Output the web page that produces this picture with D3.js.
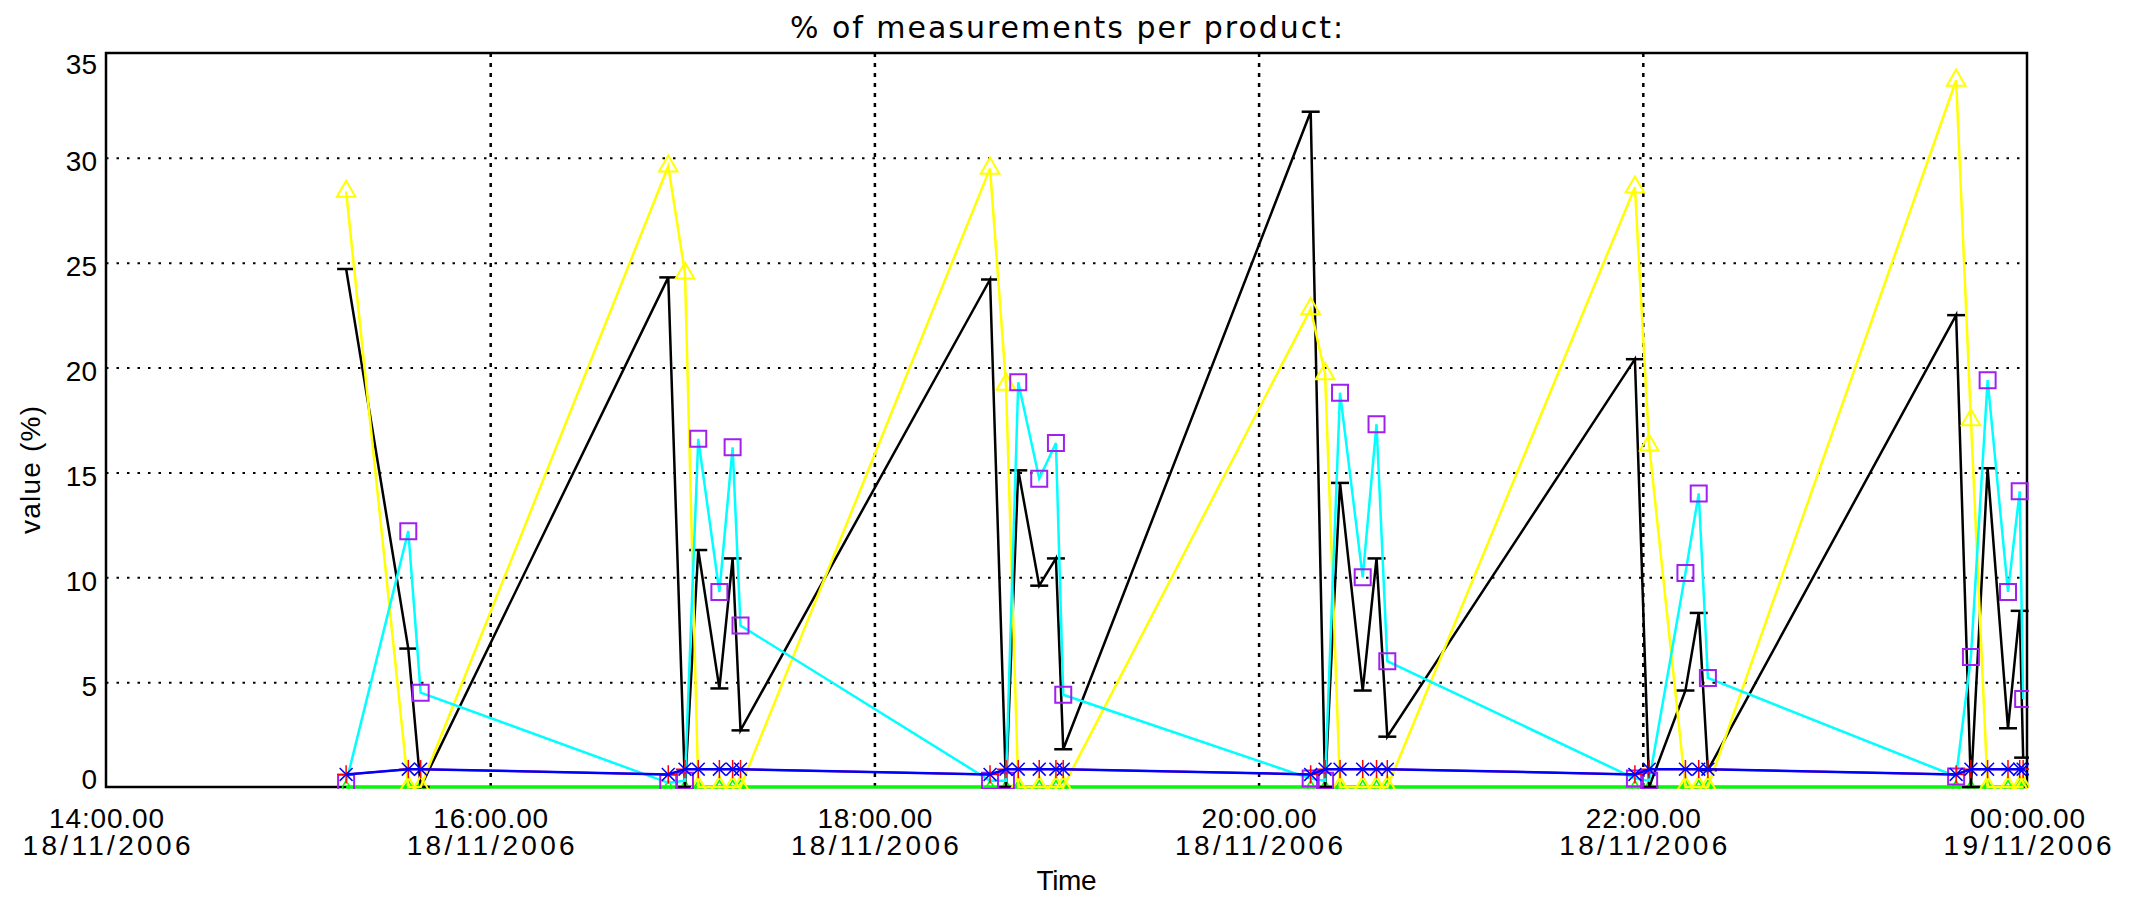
<!DOCTYPE html>
<html>
<head>
<meta charset="utf-8">
<script src="https://cdn.jsdelivr.net/npm/d3@7"></script>
<style>
body { margin: 0; background: #fff; }
text { font-family: "Liberation Sans", Arial, sans-serif; fill: #000; }
</style>
</head>
<body>
<script>
// sample times on 18/11/2006 (one row per measurement)
var times = ["15:15:00","15:34:25","15:38:17",
    "16:55:37","17:00:50","17:04:59","17:11:35","17:15:43","17:18:11",
    "18:36:07","18:41:06","18:44:56","18:51:29","18:56:42","18:58:59",
    "20:16:16","20:20:46","20:25:26","20:32:31","20:36:50","20:40:12",
    "21:57:32","22:01:59","22:13:19","22:17:28","22:20:20",
    "23:37:52","23:42:29","23:47:42","23:54:04","23:57:43","23:58:48"];

var blackVals = [24.7, 6.6, 0,
    24.3, 0, 11.3, 4.7, 10.9, 2.7,
    24.2, 0, 15.1, 9.6, 10.9, 1.8,
    32.2, 0, 14.5, 4.6, 10.9, 2.4,
    20.4, 0, 4.6, 8.3, 0.8,
    22.5, 0, 15.2, 2.8, 8.4, 1.4];

var yellowVals = [28.4, 0, 0,
    29.6, 24.5, 0, 0, 0, 0,
    29.5, 19.2, 0, 0, 0, 0,
    22.8, 19.7, 0, 0, 0, 0,
    28.6, 16.3, 0, 0, 0,
    33.7, 17.5, 0, 0, 0, 0];

var cyanVals = [0.2, 12.2, 4.5,
    0.2, 0.3, 16.6, 9.3, 16.2, 7.7,
    0.3, 0.3, 19.3, 14.7, 16.4, 4.4,
    0.4, 0.3, 18.8, 10.0, 17.3, 6.0,
    0.4, 0.3, 10.2, 14.0, 5.2,
    0.5, 6.2, 19.4, 9.3, 14.1, 4.2];

var blueVals = [0.6, 0.85, 0.85,
    0.6, 0.85, 0.85, 0.85, 0.85, 0.85,
    0.6, 0.85, 0.85, 0.85, 0.85, 0.85,
    0.6, 0.85, 0.85, 0.85, 0.85, 0.85,
    0.6, 0.85, 0.85, 0.85, 0.85,
    0.6, 0.85, 0.85, 0.85, 0.85, 0.85];

var redVals = [0.6, 0.85, 0.85,
    0.6, 0.85, 0.85, 0.85, 0.85, 0.85,
    0.6, 0.85, 0.85, 0.85, 0.85, 0.85,
    0.6, 0.85, 0.85, 0.85, 0.85, 0.85,
    0.6, 0.85, 0.85, 0.85, 0.85,
    0.6, 0.85, 0.85, 0.85, 0.85, 0.85];

var greenVals = [0, 0, 0,
    0, 0, 0, 0, 0, 0,
    0, 0, 0, 0, 0, 0,
    0, 0, 0, 0, 0, 0,
    0, 0, 0, 0, 0,
    0, 0, 0, 0, 0, 0];

var yTicks = [0, 5, 10, 15, 20, 25, 30, 35];
var yGrid = [5, 10, 15, 20, 25, 30];
var xTicks = ["2006-11-18 14:00:00", "2006-11-18 16:00:00", "2006-11-18 18:00:00",
    "2006-11-18 20:00:00", "2006-11-18 22:00:00", "2006-11-19 00:00:00"];
var xGrid = ["2006-11-18 16:00:00", "2006-11-18 18:00:00", "2006-11-18 20:00:00", "2006-11-18 22:00:00"];

var margin = {top: 53, right: 102, bottom: 123, left: 106},
    width = 2129 - margin.left - margin.right,
    height = 910 - margin.top - margin.bottom;

var parseTime = d3.timeParse("%Y-%m-%d %H:%M:%S");
var fmtTime = d3.timeFormat("%H:%M.%S");
var fmtDate = d3.timeFormat("%d/%m/%Y");

var x = d3.scaleTime()
    .domain([parseTime(xTicks[0]), parseTime(xTicks[xTicks.length - 1])])
    .range([0, width]);
var y = d3.scaleLinear().domain([0, 35]).range([height, 0]);

function series(vals) {
    return times.map(function(t, i) { return {t: parseTime("2006-11-18 " + t), v: vals[i]}; });
}

var svg = d3.select("body").append("svg")
    .attr("width", 2129)
    .attr("height", 910)
    .append("g")
    .attr("transform", "translate(" + margin.left + "," + margin.top + ")");

// grid
svg.append("g")
    .call(d3.axisLeft(y).tickValues(yGrid).tickSize(-width).tickFormat(""))
    .call(function(g) { g.select(".domain").remove(); })
    .selectAll("line")
    .style("stroke", "#000")
    .style("stroke-width", 2)
    .style("stroke-dasharray", "2.5,8");

svg.append("g")
    .attr("transform", "translate(0," + height + ")")
    .call(d3.axisBottom(x).tickValues(xGrid.map(parseTime)).tickSize(-height).tickFormat(""))
    .call(function(g) { g.select(".domain").remove(); })
    .selectAll("line")
    .style("stroke", "#000")
    .style("stroke-width", 2.5)
    .style("stroke-dasharray", "4,6");

// frame
svg.append("rect")
    .attr("width", width)
    .attr("height", height)
    .style("fill", "none")
    .style("stroke", "#000")
    .style("stroke-width", 2.5);

// y axis labels
var yAx = svg.append("g")
    .call(d3.axisLeft(y).tickValues(yTicks).tickSize(0).tickPadding(9));
yAx.select(".domain").remove();
yAx.selectAll("text")
    .attr("dy", null)
    .attr("y", function(d) {
        var base = Math.min(Math.max(y(d) + 13, 20), height + 1);
        return base - y(d);
    })
    .style("font-size", "28px");

// x axis labels (time + date)
var xAx = svg.append("g")
    .attr("transform", "translate(0," + height + ")")
    .call(d3.axisBottom(x).tickValues(xTicks.map(parseTime)).tickSize(0));
xAx.select(".domain").remove();
xAx.selectAll(".tick text").remove();
xAx.selectAll(".tick").each(function(d) {
    var t = d3.select(this);
    t.append("text")
        .attr("y", 41)
        .attr("text-anchor", "middle")
        .style("font-size", "28px")
        .attr("textLength", 115)
        .attr("lengthAdjust", "spacing")
        .text(fmtTime(d));
    t.append("text")
        .attr("y", 68)
        .attr("text-anchor", "middle")
        .style("font-size", "28px")
        .attr("textLength", 168)
        .attr("lengthAdjust", "spacing")
        .text(fmtDate(d));
});

// titles
svg.append("text")
    .attr("x", width / 2)
    .attr("y", -15)
    .attr("text-anchor", "middle")
    .style("font-family", "'DejaVu Sans', sans-serif")
    .style("font-size", "30px")
    .attr("textLength", 553)
    .attr("lengthAdjust", "spacing")
    .text("% of measurements per product:");

svg.append("text")
    .attr("x", width / 2)
    .attr("y", 837)
    .attr("text-anchor", "middle")
    .style("font-size", "28px")
    .attr("textLength", 60)
    .text("Time");

svg.append("text")
    .attr("transform", "translate(" + (40 - margin.left) + "," + (470 - margin.top) + ") rotate(-90)")
    .attr("text-anchor", "middle")
    .style("font-size", "28px")
    .attr("textLength", 128)
    .attr("lengthAdjust", "spacing")
    .text("value (%)");

// data
svg.append("clipPath").attr("id", "clip")
    .append("rect").attr("x", -2).attr("y", -2).attr("width", width + 4).attr("height", height + 4);
var plot = svg.append("g").attr("clip-path", "url(#clip)");

var line = d3.line()
    .x(function(d) { return x(d.t); })
    .y(function(d) { return y(d.v); });

function drawLine(vals, color, w) {
    plot.append("path")
        .datum(series(vals))
        .attr("d", line)
        .style("fill", "none")
        .style("stroke", color)
        .style("stroke-width", w);
}

function drawSymbols(vals, type, size, color, w) {
    plot.append("g").selectAll("path")
        .data(series(vals))
        .enter().append("path")
        .attr("transform", function(d) { return "translate(" + x(d.t) + "," + y(d.v) + ")"; })
        .attr("d", d3.symbol().type(type).size(size))
        .style("fill", "none")
        .style("stroke", color)
        .style("stroke-width", w);
}

// green
drawLine(greenVals, "#00ff00", 3);
drawSymbols(greenVals, d3.symbolDiamond, 50, "#00ff00", 1.5);

// black with dash markers
drawLine(blackVals, "#000", 2.5);
plot.append("g").selectAll("line")
    .data(series(blackVals))
    .enter().append("line")
    .attr("x1", function(d) { return x(d.t) - 9; })
    .attr("x2", function(d) { return x(d.t) + 9; })
    .attr("y1", function(d) { return y(d.v); })
    .attr("y2", function(d) { return y(d.v); })
    .style("stroke", "#000")
    .style("stroke-width", 2.5);

// yellow with triangles
drawLine(yellowVals, "#ffff00", 2.5);
drawSymbols(yellowVals, d3.symbolTriangle, 150, "#ffff00", 2);

// cyan with purple squares
drawLine(cyanVals, "#00ffff", 2.5);
drawSymbols(cyanVals, d3.symbolSquare, 256, "#a020f0", 2);

// red + blue near the bottom
drawLine(redVals, "#ff0000", 2);
drawSymbols(redVals, d3.symbolPlus, 110, "#ff0000", 1.5);
drawLine(blueVals, "#0000ff", 2.5);
drawSymbols(blueVals, d3.symbolX, 110, "#0000ff", 1.5);
</script>
</body>
</html>
